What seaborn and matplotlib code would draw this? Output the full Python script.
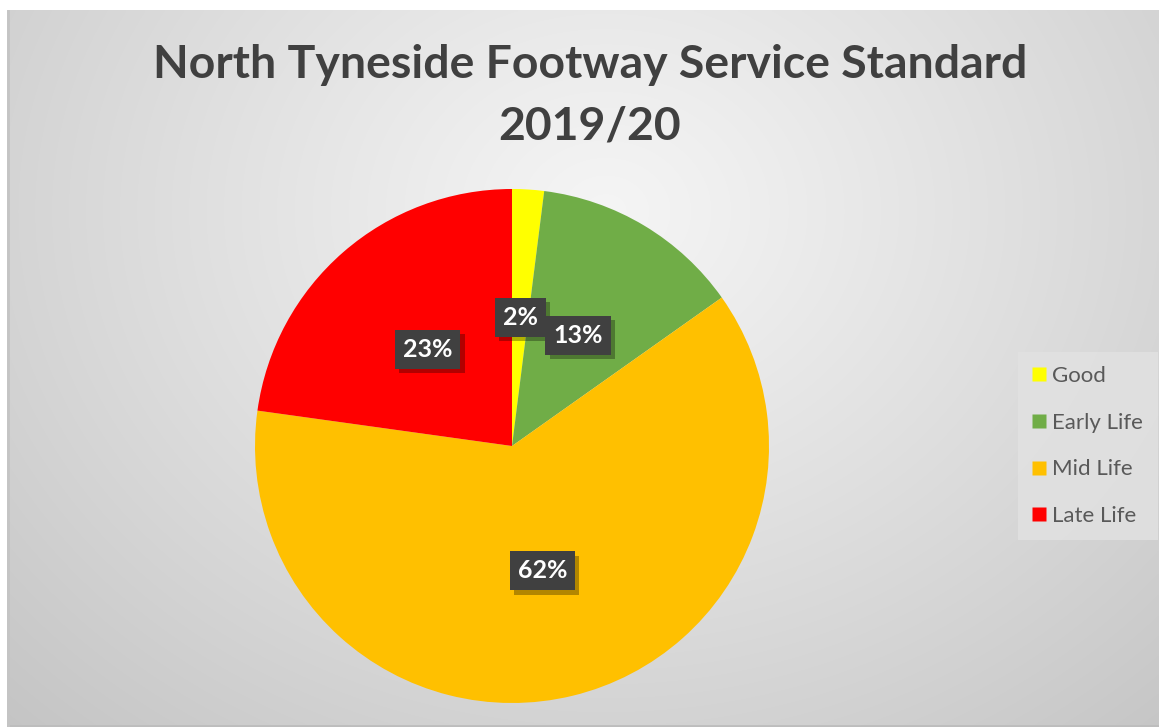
import numpy as np
import matplotlib
matplotlib.use("Agg")
import matplotlib.pyplot as plt
import matplotlib.patheffects as pe
from matplotlib.lines import Line2D
import seaborn as sns

categories = ["Good", "Early Life", "Mid Life", "Late Life"]
values = [2.0, 13.2, 62.0, 22.8]
colors = ["#FFFF00", "#70AD47", "#FFC000", "#FF0000"]
title_lines = ["North Tyneside Footway Service Standard", "2019/20"]

sns.set_theme(style="white")
plt.rcParams['font.family'] = ['Lato', 'DejaVu Sans']

W, H = 1159, 727
fig = plt.figure(figsize=(W / 100, H / 100), dpi=100, facecolor="white")

# background gradient panel
x0, y0 = 7, 10
bg = fig.add_axes([x0 / W, 0, (W - x0) / W, (H - y0) / H])
bg.set_axis_off()
nx, ny = 400, 250
xx, yy = np.meshgrid(np.linspace(0, 1, nx), np.linspace(0, 1, ny))
d = np.sqrt(((xx - 0.52) * 1.0) ** 2 + ((yy - 0.28) * 0.75) ** 2)
d = d / d.max()
vals = 0.96 - 0.19 * np.clip(d, 0, 1) ** 1.1
img = np.dstack([vals, vals, vals])
bg.imshow(img, aspect="auto", extent=[0, 1, 1, 0], interpolation="bilinear")
bg.set_xlim(0, 1)
bg.set_ylim(1, 0)
bg.plot([0, 1], [0.002, 0.002], color="#bdbdbd", lw=2, transform=bg.transAxes)
bg.plot([0.001, 0.001], [0, 1], color="#c4c4c4", lw=2, transform=bg.transAxes)

# pie
cx, cy, r = 512, 446, 257
ax = fig.add_axes([(cx - r) / W, (H - cy - r) / H, 2 * r / W, 2 * r / H])
ax.set_axis_off()
wedges, texts, autotexts = ax.pie(
    values, colors=colors, startangle=90, counterclock=False,
    autopct=lambda p: f"{p:.0f}%", pctdistance=0.5,
    wedgeprops=dict(linewidth=0),
    textprops=dict(color="white", fontsize=18, fontweight="bold"),
)
ax.set_xlim(-1, 1)
ax.set_ylim(-1, 1)
ax.set_aspect("equal")
for t in autotexts:
    t.set_bbox(dict(boxstyle="square,pad=0.32", facecolor="#404040", edgecolor="none"))
    t.get_bbox_patch().set_path_effects([
        pe.SimplePatchShadow(offset=(3, -3), shadow_rgbFace="#000000", alpha=0.3),
        pe.Normal(),
    ])

# title
fig.text(590 / W, 1 - 65 / H, title_lines[0], ha="center", va="center",
         fontsize=33.4, fontweight="bold", color="#404040")
fig.text(590 / W, 1 - 127 / H, title_lines[1], ha="center", va="center",
         fontsize=33.4, fontweight="bold", color="#404040")

# legend
handles = [Line2D([0], [0], marker="s", linestyle="none", markersize=10,
                  markerfacecolor=c, markeredgecolor="none") for c in colors]
leg = fig.legend(handles, categories, loc="center left",
                 bbox_to_anchor=(1018 / W, 1 - 446 / H), frameon=True,
                 fontsize=16, labelspacing=1.2, handlelength=0.6,
                 handletextpad=0.3, borderpad=0.65, borderaxespad=0,
                 fancybox=False)
leg.get_frame().set_facecolor("#e2e2e2")
leg.get_frame().set_edgecolor("none")
for t in leg.get_texts():
    t.set_color("#595959")

fig.savefig("out.png", dpi=100, facecolor="white")
